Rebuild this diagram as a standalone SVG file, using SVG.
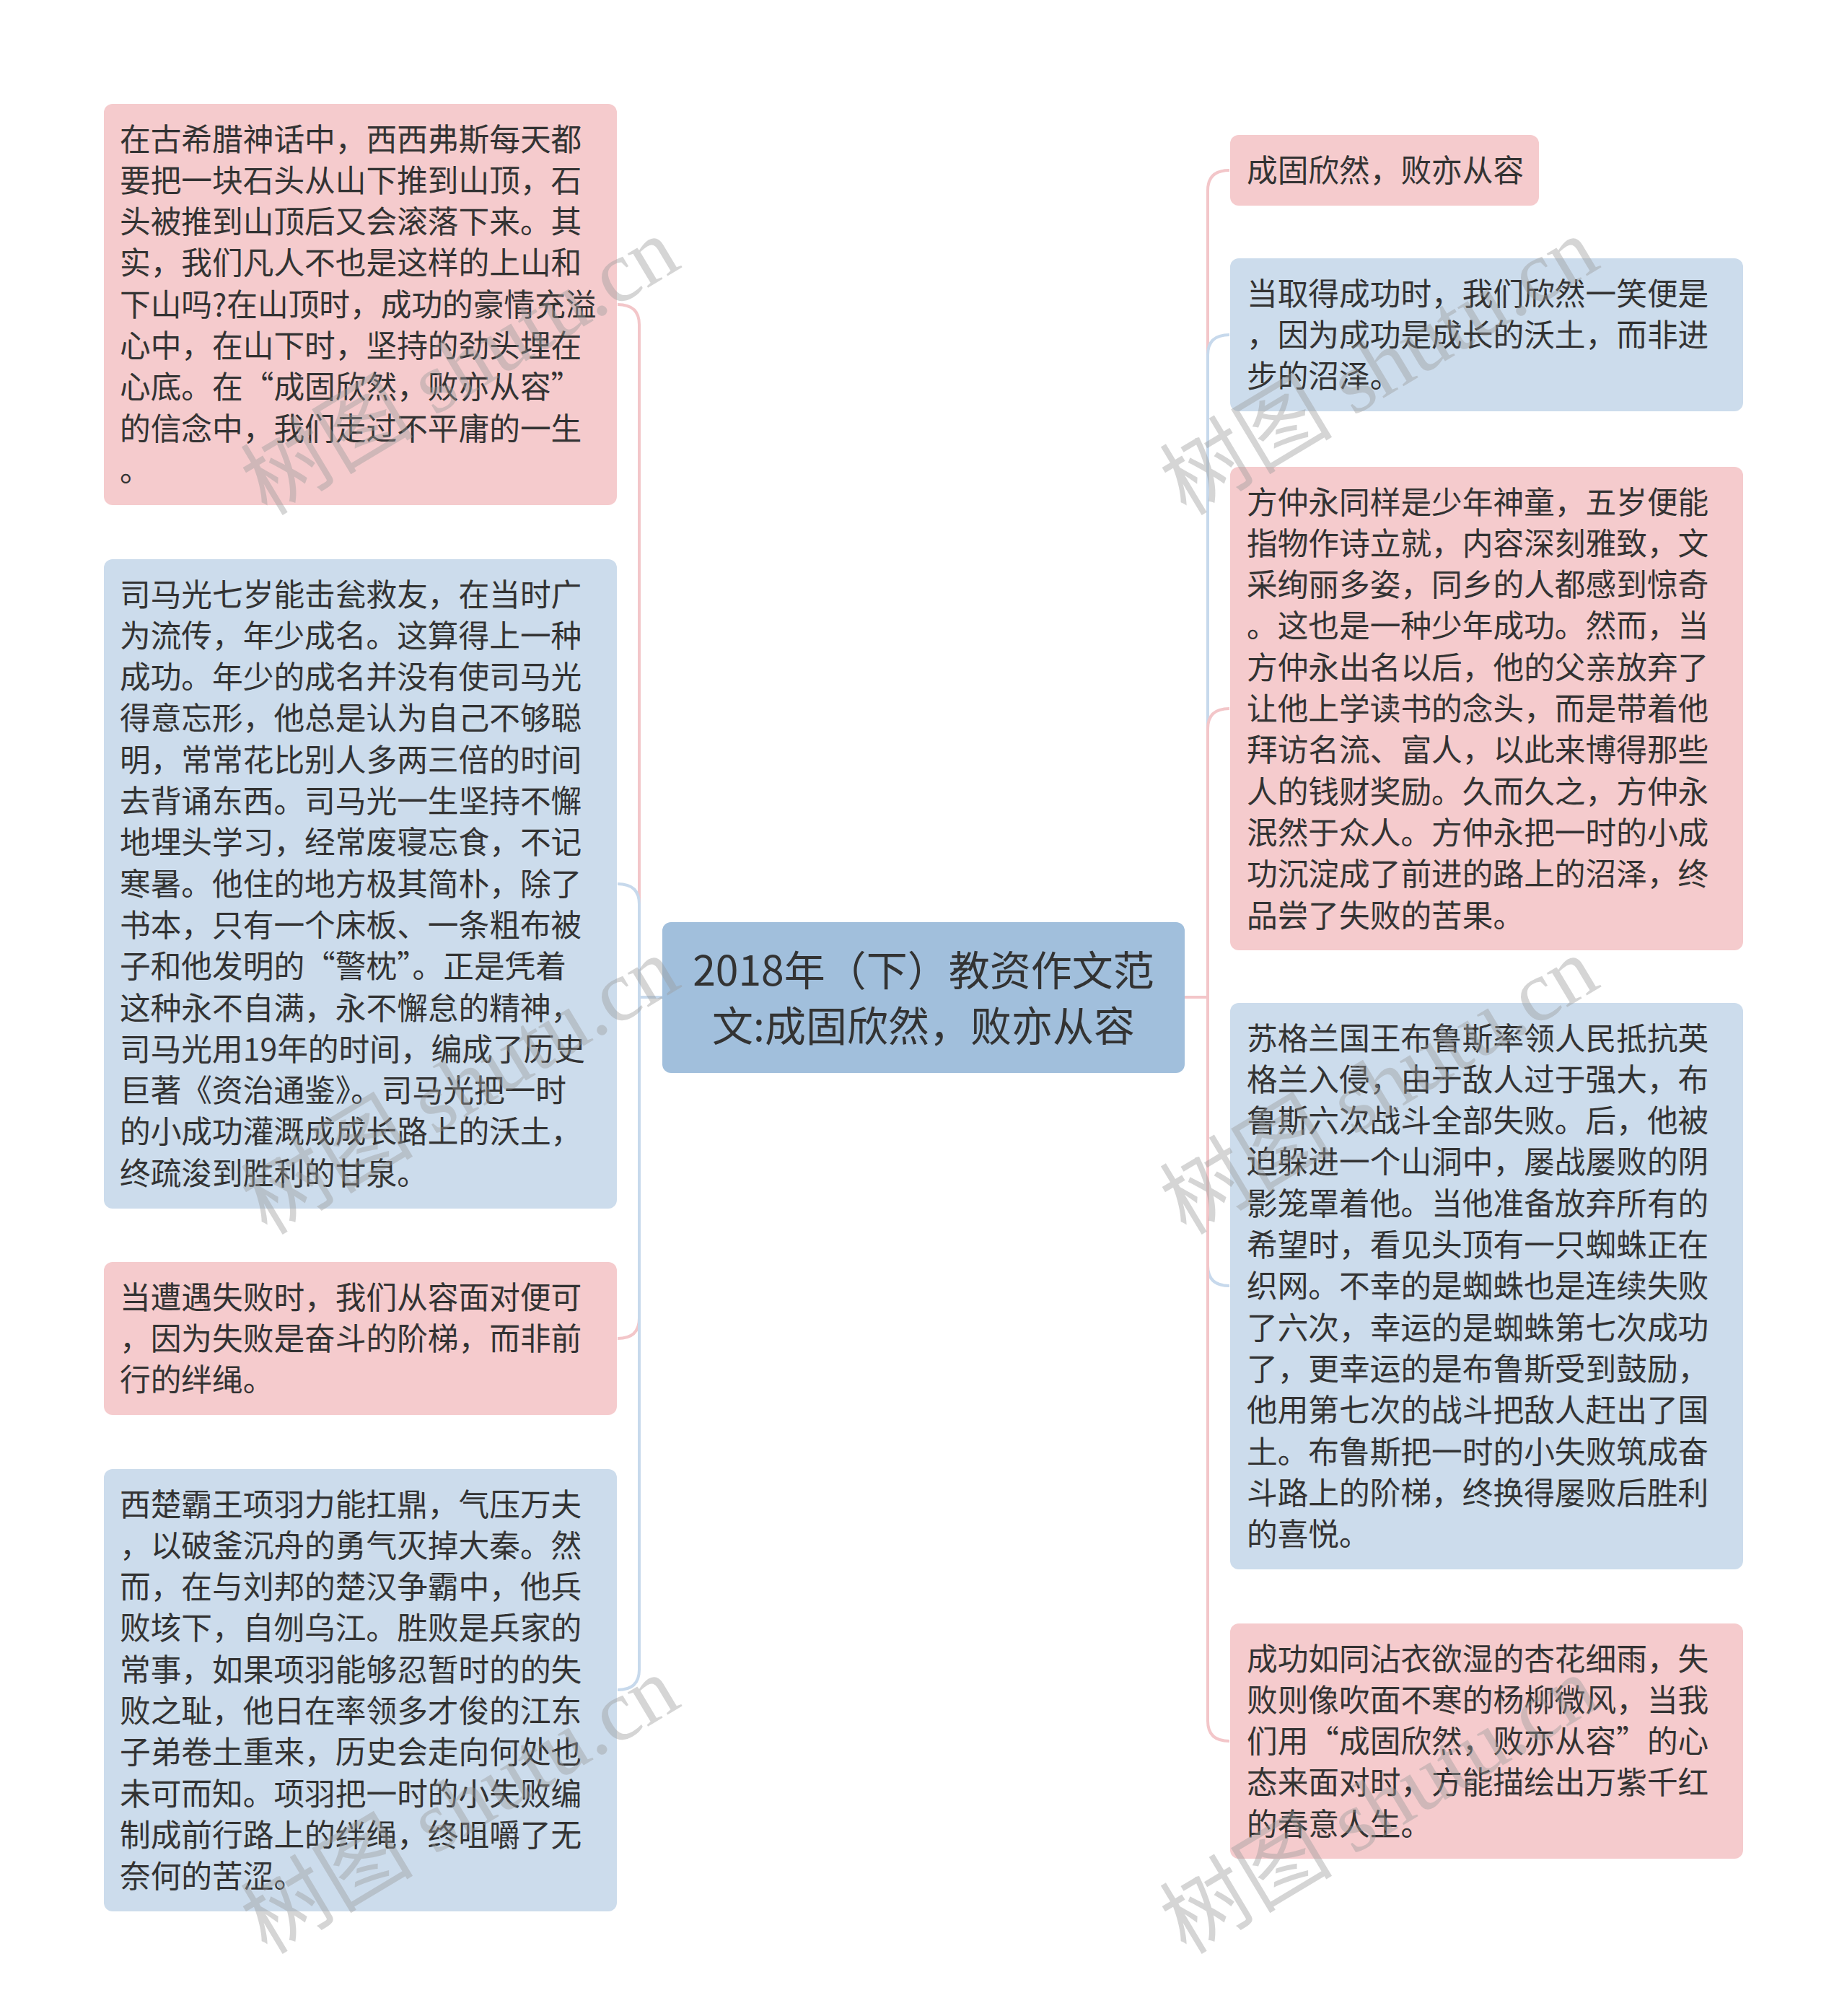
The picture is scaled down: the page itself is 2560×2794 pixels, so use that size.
<svg xmlns="http://www.w3.org/2000/svg" width="2560" height="2794" viewBox="0 0 2560 2794">
<style>
.bg{fill:#ffffff}
.pink{fill:#f5cbcd}
.blue{fill:#ccdcec}
.root{fill:#a1bfdc}
.t{font-family:"Noto Sans CJK SC","Noto Sans",sans-serif;font-size:42.7px;fill:#333333}
.rt{font-family:"Noto Sans CJK SC","Noto Sans",sans-serif;font-size:57px;fill:#333333;text-anchor:middle}
.cp{fill:none;stroke:#f3c6c9;stroke-width:4}
.cb{fill:none;stroke:#c7d9ec;stroke-width:4}
.wm{font-family:"Liberation Serif","Noto Sans CJK SC",serif;font-size:120px;fill:#9a9a9a;fill-opacity:0.42}
</style>
<rect class="bg" x="0" y="0" width="2560" height="2794"/>
<g id="connectors">
<path class="cp" d="M918 1382 L886 1382 L886 450 Q886 422 856 422"/>
<path class="cb" d="M918 1382 L886 1382 L886 1253 Q886 1225 856 1225"/>
<path class="cp" d="M918 1382 L886 1382 L886 1827 Q886 1855 856 1855"/>
<path class="cb" d="M918 1382 L886 1382 L886 2314 Q886 2342 856 2342"/>
<path class="cp" d="M1642 1382 L1674 1382 L1674 264 Q1674 236 1704 236"/>
<path class="cb" d="M1642 1382 L1674 1382 L1674 492 Q1674 464 1704 464"/>
<path class="cp" d="M1642 1382 L1674 1382 L1674 1010 Q1674 982 1704 982"/>
<path class="cb" d="M1642 1382 L1674 1382 L1674 1754 Q1674 1782 1704 1782"/>
<path class="cp" d="M1642 1382 L1674 1382 L1674 2385 Q1674 2413 1704 2413"/>
</g>
<g id="root">
<rect class="root" x="918" y="1278" width="724" height="209" rx="12"/>
<text class="rt"><tspan x="1280" y="1366">2018年（下）教资作文范</tspan><tspan x="1280" y="1443">文:成固欣然，败亦从容</tspan></text>
</g>
<g id="node-l1">
<rect class="pink" x="144" y="144" width="711" height="556" rx="12"/>
<text class="t"><tspan x="166" y="208.5">在古希腊神话中，西西弗斯每天都</tspan><tspan x="166" y="265.8">要把一块石头从山下推到山顶，石</tspan><tspan x="166" y="323.1">头被推到山顶后又会滚落下来。其</tspan><tspan x="166" y="380.4">实，我们凡人不也是这样的上山和</tspan><tspan x="166" y="437.7">下山吗?在山顶时，成功的豪情充溢</tspan><tspan x="166" y="495">心中，在山下时，坚持的劲头埋在</tspan><tspan x="166" y="552.3">心底。在“成固欣然，败亦从容”</tspan><tspan x="166" y="609.6">的信念中，我们走过不平庸的一生</tspan><tspan x="166" y="666.9">。</tspan></text>
</g>
<g id="node-l2">
<rect class="blue" x="144" y="775" width="711" height="900" rx="12"/>
<text class="t"><tspan x="166" y="839.5">司马光七岁能击瓮救友，在当时广</tspan><tspan x="166" y="896.8">为流传，年少成名。这算得上一种</tspan><tspan x="166" y="954.1">成功。年少的成名并没有使司马光</tspan><tspan x="166" y="1011.4">得意忘形，他总是认为自己不够聪</tspan><tspan x="166" y="1068.7">明，常常花比别人多两三倍的时间</tspan><tspan x="166" y="1126">去背诵东西。司马光一生坚持不懈</tspan><tspan x="166" y="1183.3">地埋头学习，经常废寝忘食，不记</tspan><tspan x="166" y="1240.6">寒暑。他住的地方极其简朴，除了</tspan><tspan x="166" y="1297.9">书本，只有一个床板、一条粗布被</tspan><tspan x="166" y="1355.2">子和他发明的“警枕”。正是凭着</tspan><tspan x="166" y="1412.5">这种永不自满，永不懈怠的精神，</tspan><tspan x="166" y="1469.8">司马光用19年的时间，编成了历史</tspan><tspan x="166" y="1527.1">巨著《资治通鉴》。司马光把一时</tspan><tspan x="166" y="1584.4">的小成功灌溉成成长路上的沃土，</tspan><tspan x="166" y="1641.7">终疏浚到胜利的甘泉。</tspan></text>
</g>
<g id="node-l3">
<rect class="pink" x="144" y="1749" width="711" height="212" rx="12"/>
<text class="t"><tspan x="166" y="1813.5">当遭遇失败时，我们从容面对便可</tspan><tspan x="166" y="1870.8">，因为失败是奋斗的阶梯，而非前</tspan><tspan x="166" y="1928.1">行的绊绳。</tspan></text>
</g>
<g id="node-l4">
<rect class="blue" x="144" y="2036" width="711" height="613" rx="12"/>
<text class="t"><tspan x="166" y="2100.5">西楚霸王项羽力能扛鼎，气压万夫</tspan><tspan x="166" y="2157.8">，以破釜沉舟的勇气灭掉大秦。然</tspan><tspan x="166" y="2215.1">而，在与刘邦的楚汉争霸中，他兵</tspan><tspan x="166" y="2272.4">败垓下，自刎乌江。胜败是兵家的</tspan><tspan x="166" y="2329.7">常事，如果项羽能够忍暂时的的失</tspan><tspan x="166" y="2387">败之耻，他日在率领多才俊的江东</tspan><tspan x="166" y="2444.3">子弟卷土重来，历史会走向何处也</tspan><tspan x="166" y="2501.6">未可而知。项羽把一时的小失败编</tspan><tspan x="166" y="2558.9">制成前行路上的绊绳，终咀嚼了无</tspan><tspan x="166" y="2616.2">奈何的苦涩。</tspan></text>
</g>
<g id="node-r1">
<rect class="pink" x="1705" y="187" width="428" height="98" rx="12"/>
<text class="t"><tspan x="1728" y="251.5">成固欣然，败亦从容</tspan></text>
</g>
<g id="node-r2">
<rect class="blue" x="1705" y="358" width="711" height="212" rx="12"/>
<text class="t"><tspan x="1728" y="422.5">当取得成功时，我们欣然一笑便是</tspan><tspan x="1728" y="479.8">，因为成功是成长的沃土，而非进</tspan><tspan x="1728" y="537.1">步的沼泽。</tspan></text>
</g>
<g id="node-r3">
<rect class="pink" x="1705" y="647" width="711" height="670" rx="12"/>
<text class="t"><tspan x="1728" y="711.5">方仲永同样是少年神童，五岁便能</tspan><tspan x="1728" y="768.8">指物作诗立就，内容深刻雅致，文</tspan><tspan x="1728" y="826.1">采绚丽多姿，同乡的人都感到惊奇</tspan><tspan x="1728" y="883.4">。这也是一种少年成功。然而，当</tspan><tspan x="1728" y="940.7">方仲永出名以后，他的父亲放弃了</tspan><tspan x="1728" y="998">让他上学读书的念头，而是带着他</tspan><tspan x="1728" y="1055.3">拜访名流、富人，以此来博得那些</tspan><tspan x="1728" y="1112.6">人的钱财奖励。久而久之，方仲永</tspan><tspan x="1728" y="1169.9">泯然于众人。方仲永把一时的小成</tspan><tspan x="1728" y="1227.2">功沉淀成了前进的路上的沼泽，终</tspan><tspan x="1728" y="1284.5">品尝了失败的苦果。</tspan></text>
</g>
<g id="node-r4">
<rect class="blue" x="1705" y="1390" width="711" height="785" rx="12"/>
<text class="t"><tspan x="1728" y="1454.5">苏格兰国王布鲁斯率领人民抵抗英</tspan><tspan x="1728" y="1511.8">格兰入侵，由于敌人过于强大，布</tspan><tspan x="1728" y="1569.1">鲁斯六次战斗全部失败。后，他被</tspan><tspan x="1728" y="1626.4">迫躲进一个山洞中，屡战屡败的阴</tspan><tspan x="1728" y="1683.7">影笼罩着他。当他准备放弃所有的</tspan><tspan x="1728" y="1741">希望时，看见头顶有一只蜘蛛正在</tspan><tspan x="1728" y="1798.3">织网。不幸的是蜘蛛也是连续失败</tspan><tspan x="1728" y="1855.6">了六次，幸运的是蜘蛛第七次成功</tspan><tspan x="1728" y="1912.9">了，更幸运的是布鲁斯受到鼓励，</tspan><tspan x="1728" y="1970.2">他用第七次的战斗把敌人赶出了国</tspan><tspan x="1728" y="2027.5">土。布鲁斯把一时的小失败筑成奋</tspan><tspan x="1728" y="2084.8">斗路上的阶梯，终换得屡败后胜利</tspan><tspan x="1728" y="2142.1">的喜悦。</tspan></text>
</g>
<g id="node-r5">
<rect class="pink" x="1705" y="2250" width="711" height="326" rx="12"/>
<text class="t"><tspan x="1728" y="2314.5">成功如同沾衣欲湿的杏花细雨，失</tspan><tspan x="1728" y="2371.8">败则像吹面不寒的杨柳微风，当我</tspan><tspan x="1728" y="2429.1">们用“成固欣然，败亦从容”的心</tspan><tspan x="1728" y="2486.4">态来面对时，方能描绘出万紫千红</tspan><tspan x="1728" y="2543.7">的春意人生。</tspan></text>
</g>
<g id="watermarks">
<text class="wm" x="370" y="716" transform="rotate(-31 370 716)">树图 shutu.cn</text>
<text class="wm" x="370" y="1713" transform="rotate(-31 370 1713)">树图 shutu.cn</text>
<text class="wm" x="370" y="2710" transform="rotate(-31 370 2710)">树图 shutu.cn</text>
<text class="wm" x="1644" y="716" transform="rotate(-31 1644 716)">树图 shutu.cn</text>
<text class="wm" x="1644" y="1713" transform="rotate(-31 1644 1713)">树图 shutu.cn</text>
<text class="wm" x="1644" y="2710" transform="rotate(-31 1644 2710)">树图 shutu.cn</text>
</g>
</svg>
